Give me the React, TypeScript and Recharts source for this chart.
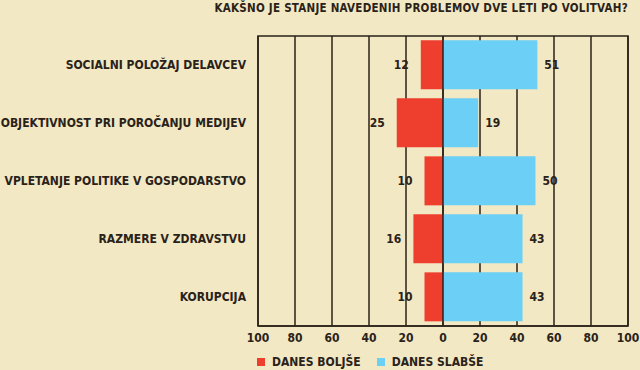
import { Bar, BarChart, CartesianGrid, LabelList, ReferenceArea, ReferenceLine, XAxis, YAxis } from "recharts";

const categories = [
  "SOCIALNI POLOŽAJ DELAVCEV",
  "OBJEKTIVNOST PRI POROČANJU MEDIJEV",
  "VPLETANJE POLITIKE V GOSPODARSTVO",
  "RAZMERE V ZDRAVSTVU",
  "KORUPCIJA",
];
const danesBoljse = [12, 25, 10, 16, 10];
const danesSlabse = [51, 19, 50, 43, 43];
const xTicks = [-100, -80, -60, -40, -20, 0, 20, 40, 60, 80, 100];

const title = "KAKŠNO JE STANJE NAVEDENIH PROBLEMOV DVE LETI PO VOLITVAH?";
const seriesNames = ["DANES BOLJŠE", "DANES SLABŠE"];

const BG = "#f2e8c3";
const INK = "#2a2219";
const RED = "#ee3e2e";
const BLUE = "#6ccff6";
const FONT = '"DejaVu Sans Condensed", "DejaVu Sans", sans-serif';

const data = categories.map((name, i) => ({
  name,
  boljse: -danesBoljse[i],
  boljseLabel: danesBoljse[i],
  slabse: danesSlabse[i],
}));

function RedLabel(props: any) {
  const { x, y, width, height, value } = props;
  const left = Math.min(Number(x), Number(x) + Number(width));
  return (
    <text
      x={left - 12}
      y={Number(y) + Number(height) / 2}
      textAnchor="end"
      dominantBaseline="central"
      fontFamily={FONT}
      fontWeight={700}
      fontSize={12}
      fill={INK}
    >
      {value}
    </text>
  );
}

// plain single-line category tick, no wrapping
function CategoryTick(props: any) {
  const { x, y, payload } = props;
  return (
    <text
      x={x}
      y={y}
      textAnchor="end"
      dominantBaseline="central"
      fontFamily={FONT}
      fontWeight={700}
      fontSize={12}
      fill={INK}
    >
      {payload.value}
    </text>
  );
}

export default function App() {
  return (
    <div style={{ position: "absolute", left: 0, top: 0, width: 640, height: 370, background: BG, fontFamily: FONT }}>
      <div
        style={{
          position: "absolute",
          right: 12,
          top: 1,
          fontSize: 11.5,
          fontWeight: 700,
          color: INK,
          letterSpacing: 0.25,
          whiteSpace: "nowrap",
        }}
      >
        {title}
      </div>
      <BarChart
        width={640}
        height={370}
        data={data}
        layout="vertical"
        stackOffset="sign"
        barCategoryGap="7.5%"
        margin={{ top: 36, right: 12, bottom: 14, left: 0 }}
      >
        <CartesianGrid horizontal={false} stroke={INK} strokeWidth={1.5} />
        <XAxis
          type="number"
          domain={[-100, 100]}
          ticks={xTicks}
          tickFormatter={(v: number) => String(Math.abs(v))}
          axisLine={{ stroke: INK, strokeWidth: 1.5 }}
          tickLine={false}
          tickSize={0}
          tickMargin={7}
          height={30}
          tick={{ fontSize: 12, fontWeight: 700, fill: INK, fontFamily: FONT }}
        />
        <YAxis
          type="category"
          dataKey="name"
          width={258}
          axisLine={false}
          tickLine={false}
          tickSize={0}
          tickMargin={12}
          tick={<CategoryTick />}
        />
        <ReferenceArea x1={-100} x2={100} fill="none" stroke={INK} strokeWidth={1.5} />
        <Bar dataKey="boljse" name={seriesNames[0]} stackId="a" fill={RED} isAnimationActive={false}>
          <LabelList dataKey="boljseLabel" content={RedLabel} />
        </Bar>
        <Bar dataKey="slabse" name={seriesNames[1]} stackId="a" fill={BLUE} isAnimationActive={false}>
          <LabelList
            dataKey="slabse"
            position="right"
            offset={7}
            style={{ fontSize: 12, fontWeight: 700, fill: INK, fontFamily: FONT }}
          />
        </Bar>
        <ReferenceLine x={0} stroke={INK} strokeWidth={1.5} />
      </BarChart>
      <div
        style={{
          position: "absolute",
          left: 257,
          top: 355,
          display: "flex",
          alignItems: "center",
          fontSize: 12,
          fontWeight: 700,
          color: INK,
          whiteSpace: "nowrap",
        }}
      >
        <span style={{ width: 8, height: 8, background: RED, display: "inline-block", marginRight: 7 }} />
        <span style={{ marginRight: 16 }}>{seriesNames[0]}</span>
        <span style={{ width: 8, height: 8, background: BLUE, display: "inline-block", marginRight: 7 }} />
        <span>{seriesNames[1]}</span>
      </div>
    </div>
  );
}
